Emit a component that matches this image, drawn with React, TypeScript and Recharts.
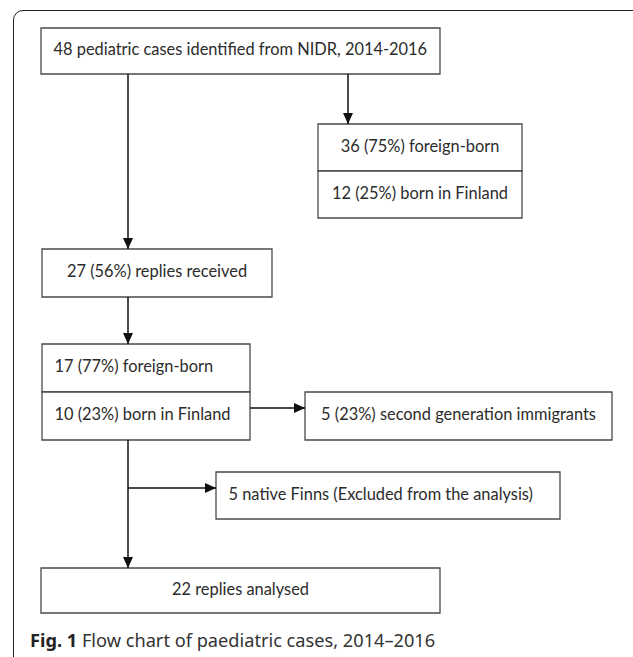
import { ComposedChart, XAxis, YAxis, Scatter, ReferenceArea, ReferenceLine } from "recharts";

// flow chart nodes (labels) and their layout in chart units
const nodeLabels = [
  "48 pediatric cases identified from NIDR, 2014-2016",
  "36 (75%) foreign-born",
  "12 (25%) born in Finland",
  "27 (56%) replies received",
  "17 (77%) foreign-born",
  "10 (23%) born in Finland",
  "5 (23%) second generation immigrants",
  "5 native Finns (Excluded from the analysis)",
  "22 replies analysed",
];
const nodeAlign = ["left", "center", "center", "center", "left", "left", "center", "left", "center"];
const nodeX = [[41, 440], [318, 522], [318, 522], [42, 272], [42, 250], [42, 250], [305, 612], [216, 560], [41, 440]];
const nodeY = [[28, 74], [124, 171], [171, 218], [249, 297], [344, 392], [392, 440], [392, 440], [472, 519], [568, 613]];

// connectors between boxes: [from, to]
const connectors = [
  [{ x: 128, y: 74 }, { x: 128, y: 249 }],
  [{ x: 348, y: 74 }, { x: 348, y: 124 }],
  [{ x: 128, y: 297 }, { x: 128, y: 344 }],
  [{ x: 250, y: 408 }, { x: 305, y: 408 }],
  [{ x: 128, y: 440 }, { x: 128, y: 568 }],
  [{ x: 128, y: 488 }, { x: 216, y: 488 }],
];
const arrowTips = [
  { x: 348, y: 124, dir: "down" },
  { x: 128, y: 249, dir: "down" },
  { x: 128, y: 344, dir: "down" },
  { x: 305, y: 408, dir: "right" },
  { x: 216, y: 488, dir: "right" },
  { x: 128, y: 568, dir: "down" },
];

const W = 633;
const H = 657;
const FONT = "Lato, 'Noto Sans', sans-serif";

const ArrowHead = (props: any) => {
  const { cx, cy, payload } = props;
  if (cx == null || cy == null) return null;
  const pts =
    payload.dir === "right"
      ? `${cx},${cy} ${cx - 11},${cy - 5} ${cx - 11},${cy + 5}`
      : `${cx},${cy} ${cx - 5},${cy - 11} ${cx + 5},${cy - 11}`;
  return <polygon points={pts} fill="#111" />;
};

const boxLabel = (i: number) => (props: any) => {
  const { x, y, width, height } = props.viewBox;
  const left = nodeAlign[i] === "left";
  return (
    <text
      x={left ? x + 12.5 : x + width / 2}
      y={y + height / 2 + 4}
      textAnchor={left ? "start" : "middle"}
      fontSize={16.4}
      fontFamily={FONT}
      fill="#2b2b2b"
    >
      {nodeLabels[i]}
    </text>
  );
};

export default function App() {
  return (
    <div style={{ position: "absolute", top: 0, left: 0, width: W, height: H, overflow: "hidden", background: "#fff" }}>
      <div
        style={{
          position: "absolute",
          left: 13,
          top: 10,
          width: 630,
          height: 660,
          border: "1.6px solid #222",
          borderRadius: 10,
          boxSizing: "border-box",
        }}
      />
      <div style={{ position: "absolute", left: 0, top: 0 }}>
        <ComposedChart width={W} height={H} margin={{ top: 0, right: 0, bottom: 0, left: 0 }}>
          <XAxis type="number" dataKey="x" domain={[0, W]} hide allowDataOverflow />
          <YAxis type="number" dataKey="y" domain={[0, H]} reversed hide allowDataOverflow />
          {connectors.map((seg, i) => (
            <ReferenceLine key={"c" + i} segment={seg} stroke="#111" strokeWidth={1.5} ifOverflow="visible" />
          ))}
          {nodeLabels.map((_, i) => (
            <ReferenceArea
              key={"n" + i}
              x1={nodeX[i][0]}
              x2={nodeX[i][1]}
              y1={nodeY[i][0]}
              y2={nodeY[i][1]}
              fill="#fff"
              fillOpacity={1}
              stroke="#4a4a4a"
              strokeWidth={1.3}
              ifOverflow="visible"
              label={boxLabel(i)}
            />
          ))}
          <Scatter data={arrowTips} dataKey="y" shape={ArrowHead} isAnimationActive={false} />
        </ComposedChart>
      </div>
      <svg width={W} height={40} style={{ position: "absolute", left: 0, top: 617 }}>
        <text x={30} y={30} fontSize={18.2} fontFamily="'Noto Sans', sans-serif" fill="#333">
          <tspan fontWeight="bold" fill="#222">Fig. 1</tspan> Flow chart of paediatric cases, 2014–2016
        </text>
      </svg>
    </div>
  );
}
